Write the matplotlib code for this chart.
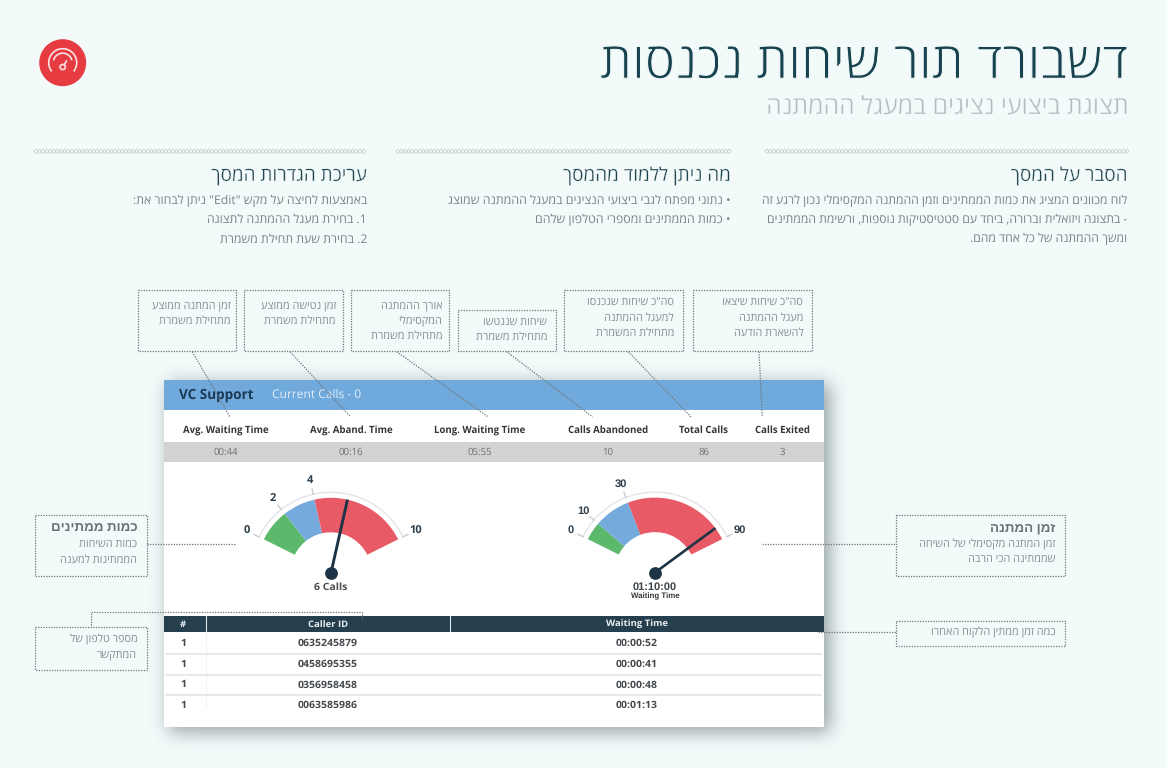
"""
Wait-queue dashboard infographic (Hebrew annotations around a VC Support card).
All layout is in reference pixels: the page axes run 0-1167 / 768-0.
Output: out.png
"""

import math
import re

import numpy as np
import matplotlib
matplotlib.use("Agg")
import matplotlib.pyplot as plt
import matplotlib.patches as mpatches
import matplotlib.patheffects as pe

W, H = 1167, 768
plt.rcParams["font.family"] = ["Open Sans", "Liberation Sans", "DejaVu Sans"]
plt.rcParams["text.hinting"] = "no_hinting"

BG = "#f2fafa"
DARK = "#1c3445"
GREY_TXT = "#7d8487"
BOX_TXT = "#8a8f92"
DOT = "#6f7577"
GREEN = "#5cb96b"
BLUE = "#74abdc"
RED = "#e95a67"

# ---------------------------------------------------------------------------
# Data
# ---------------------------------------------------------------------------
TITLE = "דשבורד תור שיחות נכנסות"
SUBTITLE = "תצוגת ביצועי נציגים במעגל ההמתנה"

COL_HEADS = ["הסבר על המסך", "מה ניתן ללמוד מהמסך", "עריכת הגדרות המסך"]
COL_BODIES = [
    ["לוח מכוונים המציג את כמות הממתינים וזמן ההמתנה המקסימלי נכון לרגע זה",
     "- בתצוגה ויזואלית וברורה, ביחד עם סטטיסטיקות נוספות, ורשימת הממתינים",
     "ומשך ההמתנה של כל אחד מהם."],
    ["• נתוני מפתח לגבי ביצועי הנציגים במעגל ההמתנה שמוצג",
     "• כמות הממתינים ומספרי הטלפון שלהם"],
    ['באמצעות לחיצה על מקש "Edit" ניתן לבחור את:',
     "1. בחירת מעגל ההמתנה לתצוגה",
     "2. בחירת שעת תחילת משמרת"],
]

STAT_LABELS = ["Avg. Waiting Time", "Avg. Aband. Time", "Long. Waiting Time",
               "Calls Abandoned", "Total Calls", "Calls Exited"]
STAT_VALUES = ["00:44", "00:16", "05:55", "10", "86", "3"]

TABLE_HEAD = ["#", "Caller ID", "Waiting Time"]
ROW_COUNTS = ["1", "1", "1", "1"]
CALLER_IDS = ["0635245879", "0458695355", "0356958458", "0063585986"]
WAIT_TIMES = ["00:00:52", "00:00:41", "00:00:48", "00:01:13"]

CALLS_MAX = 10
CALLS_TICKS = [0, 2, 4, 10]
CALLS_BANDS = [0, 2, 4, 10]
CALLS_NEEDLE = 6

WAIT_MAX = 90
WAIT_TICKS = [0, 10, 30, 90]
WAIT_BANDS = [0, 10, 30, 90]
WAIT_NEEDLE = 83

TOP_NOTES = [
    ["זמן המתנה ממוצע", "מתחילת משמרת"],
    ["זמן נטישה ממוצע", "מתחילת משמרת"],
    ["אורך ההמתנה", "המקסימלי", "מתחילת משמרת"],
    ["שיחות שננטשו", "מתחילת משמרת"],
    ['סה"כ שיחות שנכנסו', "למעגל ההמתנה", "מתחילת המשמרת"],
    ['סה"כ שיחות שיצאו', "מעגל ההמתנה", "להשארת הודעה"],
]
LEFT_NOTE_HEAD = "כמות ממתינים"
LEFT_NOTE = ["כמות השיחות", "הממתינות למענה"]
PHONE_NOTE = ["מספר טלפון של", "המתקשר"]
RIGHT_NOTE_HEAD = "זמן המתנה"
RIGHT_NOTE = ["זמן המתנה מקסימלי של השיחה", "שממתינה הכי הרבה"]
LAST_NOTE = ["כמה זמן ממתין הלקוח האחרו"]


def heb(s):
    """matplotlib has no bidi: flip to visual order, keep latin/digit runs as they are."""
    flipped = s[::-1]
    return re.sub(r"[A-Za-z0-9]+", lambda m: m.group(0)[::-1], flipped)


fig = plt.figure(figsize=(W / 100, H / 100), dpi=100, facecolor=BG)
page = fig.add_axes([0, 0, 1, 1])
page.axis("off")


def rect(x0, y0, x1, y1, color, z=2, alpha=None):
    page.add_patch(mpatches.Rectangle((x0, y0), x1 - x0, y1 - y0, facecolor=color,
                                      edgecolor="none", zorder=z, alpha=alpha))


def txt(x, y, s, size, color, ha="center", weight="normal", z=6, family=None, thin=0):
    t = page.text(x, y, s, fontsize=size * 0.72, color=color, ha=ha, va="center",
                  fontweight=weight, zorder=z)
    if family:
        t.set_family(family)
    if thin:
        # light weights are not available with Hebrew glyphs, so shave the fill instead
        t.set_path_effects([pe.Stroke(linewidth=thin, foreground=BG)])
    return t


def dotted(xs, ys, z=7):
    page.plot(xs, ys, color=DOT, lw=0.9, ls=(0, (1, 1.1)), zorder=z)


def note_box(x0, y0, x1, y1):
    dotted([x0, x1, x1, x0, x0], [y0, y0, y1, y1, y0], z=3)


# ---------------------------------------------------------------------------
# Card shadow (blurred rectangle)
# ---------------------------------------------------------------------------
CARD = (163.5, 379.5, 824, 727)
SIGMA = 9.0
erf = np.vectorize(math.erf)


def soft_edge(grid, lo, hi):
    return 0.5 * (erf((grid - lo) / (SIGMA * 2 ** 0.5)) - erf((grid - hi) / (SIGMA * 2 ** 0.5)))


gx = np.arange(0, W) + 0.5
gy = np.arange(0, H) + 0.5
shadow = np.zeros((H, W, 4))
shadow[..., :3] = matplotlib.colors.to_rgb("#33444f")
shadow[..., 3] = 0.48 * np.outer(soft_edge(gy, CARD[1] + 4, CARD[3] + 5),
                                 soft_edge(gx, CARD[0] + 5, CARD[2] + 6))
page.imshow(shadow, extent=(0, W, H, 0), zorder=1, interpolation="nearest", aspect="auto")
page.set_xlim(0, W)
page.set_ylim(H, 0)

# ---------------------------------------------------------------------------
# Header
# ---------------------------------------------------------------------------
txt(1128, 65, heb(TITLE), 50.5, "#17434f", ha="right", thin=0.75)
txt(1128, 107.5, heb(SUBTITLE), 24.8, "#b4babd", ha="right", thin=0.3)

page.add_patch(mpatches.Circle((62.7, 62.7), 23.5, facecolor="#e63b41", edgecolor="none", zorder=3))
icon_t = np.radians(np.linspace(-35, 215, 60))
page.plot(62.7 + 14 * np.cos(icon_t), 62.7 - 14 * np.sin(icon_t), color="#fbe3e3", lw=1.2, zorder=4)
icon_t = np.radians(np.linspace(20, 160, 40))
page.plot(62.7 + 9.5 * np.cos(icon_t), 62.7 - 9.5 * np.sin(icon_t), color="#fbe3e3", lw=1.2, zorder=4)
page.add_patch(mpatches.Circle((62.7, 67), 2.6, facecolor="none", edgecolor="#fbe3e3", lw=1.2, zorder=4))
page.plot([64.2, 66.5], [64.8, 61], color="#fbe3e3", lw=1.2, zorder=4)

col_right = [1127.7, 731, 367]
col_left = [766, 397, 35]
body_right = [1127.5, 731, 367]
body_size = [12.13, 12.4, 12.3]
for right, left, b_right, b_size, head, body in zip(col_right, col_left, body_right, body_size,
                                                    COL_HEADS, COL_BODIES):
    sep_x = np.arange(left + 1, right, 3.6)
    page.scatter(sep_x, np.full(len(sep_x), 151.3), marker="D", s=5, facecolor="none",
                 edgecolor="#bcc1c1", linewidth=0.4, zorder=3)
    txt(right - 0.3, 176, heb(head), 18.9, "#1f4450", ha="right", thin=0.2)
    for i, line in enumerate(body):
        txt(b_right, 200.5 + i * 19.3, heb(line), b_size, GREY_TXT, ha="right")

# ---------------------------------------------------------------------------
# Card
# ---------------------------------------------------------------------------
rect(*CARD, "white", z=2)
rect(CARD[0], CARD[1], CARD[2], 410, "#70a9dc", z=2.5)
rect(CARD[0], 442, CARD[2], 462, "#d4d2d3", z=2.5)
txt(179, 394.5, "VC Support", 13.5, "#1b3a55", ha="left", weight="bold")
txt(272, 394.5, "Current Calls - 0", 12, "#e2eef9", ha="left")

stat_x = [226, 351, 480, 607.7, 703.7, 782]
for x, lab, val in zip(stat_x, STAT_LABELS, STAT_VALUES):
    txt(x, 430.5, lab, 9.7, "#33363a", weight="bold")
    txt(x, 452, val, 9.7, "#6d6f72")

# table
col_x = [183, 328, 637]
rect(CARD[0], 616, CARD[2] - 0.5, 632.3, "#253f4e", z=2.5)
for x in [205.5, 450]:
    page.plot([x, x], [616, 632.3], color="#dfe6ea", lw=0.8, zorder=3)
page.plot([205.5, 205.5], [632.3, 706], color="#f1f2f3", lw=0.8, zorder=2.6)
for x, lab in zip(col_x, TABLE_HEAD):
    txt(x, 624.5, lab, 9.5, "#e9eef1", weight="bold")
row_y = np.arange(len(CALLER_IDS))
for i, cnt, cid, tm in zip(row_y, ROW_COUNTS, CALLER_IDS, WAIT_TIMES):
    y = 643.7 + i * 20.6
    txt(col_x[0], y, cnt, 10.5, "#45494d", weight="bold")
    txt(col_x[1], y, cid, 10.5, "#45494d", weight="bold")
    txt(col_x[2], y, tm, 10.5, "#45494d", weight="bold")
    if i < len(row_y) - 1:
        page.plot([165.7, 821], [y + 10.3, y + 10.3], color="#e0e1e2", lw=1.1, zorder=2.6)


# ---------------------------------------------------------------------------
# Gauges (polar insets, one radial unit = one pixel)
# ---------------------------------------------------------------------------
START_DEG, END_DEG = 153.5, 26.5


def draw_gauge(cx, cy, vmax, ticks, bands, needle, lw, label_family=None):
    span = 110
    gax = fig.add_axes([(cx - span) / W, 1 - (cy + span) / H, 2 * span / W, 2 * span / H],
                       projection="polar")
    gax.set_ylim(0, span)
    gax.axis("off")
    gax.patch.set_alpha(0)
    gax.set_zorder(5)

    def to_theta(v):
        return np.radians(START_DEG + (END_DEG - START_DEG) * (np.asarray(v, dtype=float) / vmax))

    colors = [GREEN, BLUE, RED]
    for lo, hi, col in zip(bands[:-1], bands[1:], colors):
        t0, t1 = to_theta(lo), to_theta(hi)
        gax.bar((t0 + t1) / 2, 34.5, width=abs(t1 - t0), bottom=40.5, color=col, linewidth=0)

    arc = to_theta(np.linspace(0, vmax, 80))
    gax.plot(arc, np.full(80, 80.5), color="#e3e4e8", lw=1.0)
    for t in ticks:
        th = to_theta(t)
        gax.plot([th, th], [80.5, 86], color="#c9ccd0", lw=1.0)
        lab = gax.text(th, 94.5, str(t), fontsize=8, fontweight="bold", color="#2e3e4a",
                       ha="center", va="center")
        if label_family:
            lab.set_family(label_family)

    th = to_theta(needle)
    gax.plot([th, th], [0, 75], color=DARK, lw=lw, solid_capstyle="butt")
    gax.plot([th], [0], marker="o", ms=9.2, color=DARK, mec="none")


draw_gauge(331, 572.8, CALLS_MAX, CALLS_TICKS, CALLS_BANDS, CALLS_NEEDLE, 2.1)
draw_gauge(655, 572.6, WAIT_MAX, WAIT_TICKS, WAIT_BANDS, WAIT_NEEDLE, 1.9, "Liberation Sans")
txt(331, 587, "6 Calls", 10.5, "#4a4e52", weight="bold", z=8)
txt(655, 586.7, "01:10:00", 11, "#3b4248", weight="bold", family="Liberation Sans", z=8)
txt(655, 596.7, "Waiting Time", 7.9, "#33383c", weight="bold", family="Liberation Sans", z=8)

# ---------------------------------------------------------------------------
# Dotted callouts
# ---------------------------------------------------------------------------
top_boxes = [(137.5, 289.5, 235.5, 351), (244, 289.5, 342.5, 351), (350.5, 289.5, 448.5, 351),
             (457.5, 310, 555.5, 351), (563.5, 289.5, 682.5, 351), (693, 289.5, 811.5, 351)]
top_text_right = [231, 336, 442.3, 547.3, 674, 803.3]
top_text_y = [306, 306, 306, 321.7, 302.5, 302.5]
top_leads = [(192.3, 230), (290, 350.7), (396.7, 488.3), (506.7, 592.7), (628.3, 691), (759, 762.3)]
for box, lines, tx, ty, lead in zip(top_boxes, TOP_NOTES, top_text_right, top_text_y, top_leads):
    note_box(*box)
    for i, line in enumerate(lines):
        txt(tx, ty + i * 15.2, heb(line), 10.9, BOX_TXT, ha="right")
    dotted(lead, [351.7, 417])

note_box(35, 514.5, 147.3, 575.5)
txt(137.3, 528, heb(LEFT_NOTE_HEAD), 13.4, "#6d7174", ha="right", weight="bold")
for i, line in enumerate(LEFT_NOTE):
    txt(137.3, 544 + i * 15.5, heb(line), 10.9, BOX_TXT, ha="right")
dotted([147.3, 236], [543.5, 543.5])

note_box(35, 627, 147.3, 669.5)
for i, line in enumerate(PHONE_NOTE):
    txt(137.3, 639.5 + i * 15.5, heb(line), 10.9, BOX_TXT, ha="right")
dotted([90.7, 90.7, 362.3, 362.3], [625, 612.3, 612.3, 620])

note_box(895.5, 514.5, 1065.3, 575.5)
txt(1055.3, 528, heb(RIGHT_NOTE_HEAD), 13.4, "#6d7174", ha="right", weight="bold")
for i, line in enumerate(RIGHT_NOTE):
    txt(1055.3, 544 + i * 15.5, heb(line), 10.9, BOX_TXT, ha="right")
dotted([761.7, 895.5], [543.5, 543.5])

note_box(895.5, 620.5, 1065.3, 645.5)
txt(1055.3, 632.8, heb(LAST_NOTE[0]), 10.9, BOX_TXT, ha="right")
dotted([818.3, 895.5], [632.3, 632.3])

fig.savefig("out.png", dpi=100, facecolor=BG)
